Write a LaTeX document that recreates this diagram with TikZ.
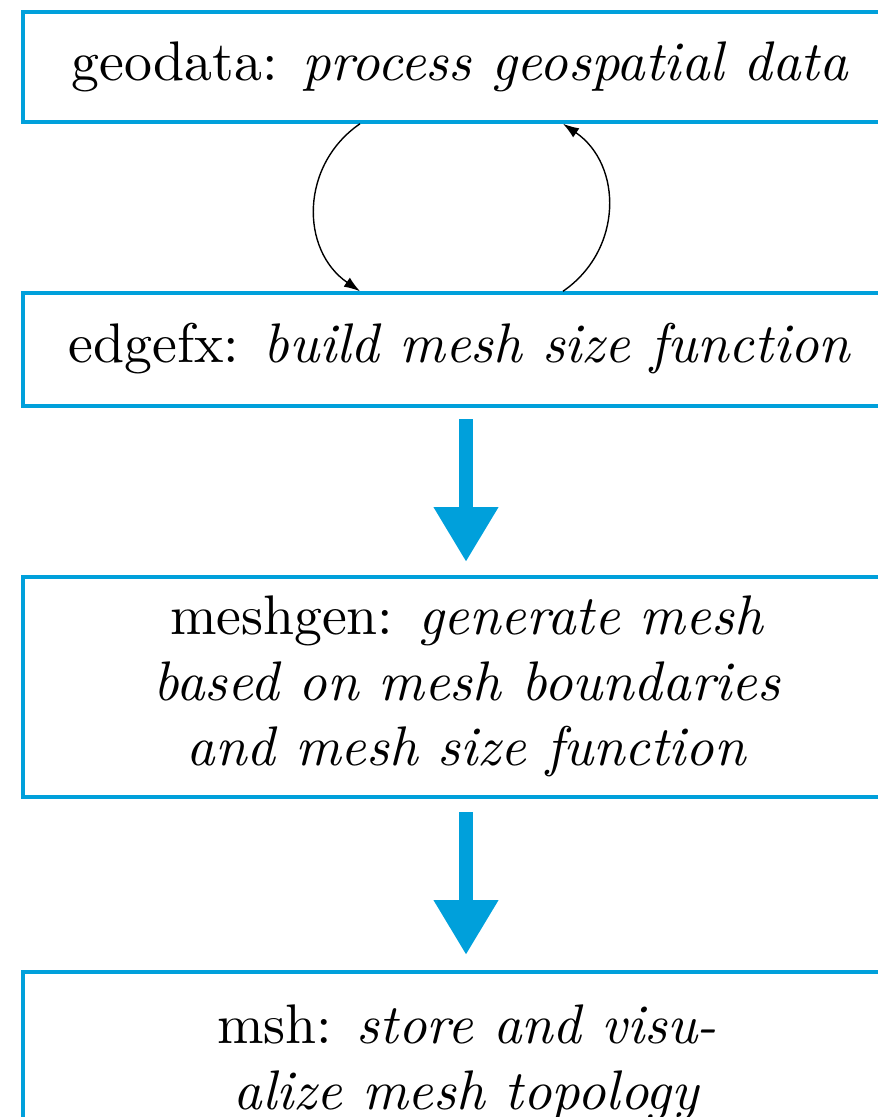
\documentclass[tikz,border=0pt]{standalone}
\usepackage{graphicx}
\usetikzlibrary{arrows.meta}
\definecolor{boxblue}{RGB}{0,160,219}
\newcommand{\bigtxt}[1]{\scalebox{5.58}{\fontsize{10}{11.75}\selectfont\begin{tabular}{@{}c@{}}#1\end{tabular}}}
\begin{document}
\begin{tikzpicture}[x=1pt,y=-1pt,
  box/.style={draw=boxblue, line width=3.5pt, align=center, inner sep=0pt},
  fatarrow/.style={draw=boxblue, line width=14pt, -{Triangle[width=61pt,length=55pt]}},
  loopar/.style={draw=black, line width=1.4pt, -{Latex[length=16pt,width=11pt]}}]
\useasboundingbox (0,0) rectangle (878,1117);
\node[box, minimum width=874, minimum height=110] (geo) at (460,67) {\bigtxt{geodata: \textit{process geospatial data}}};
\node[box, minimum width=874, minimum height=113] (edge) at (460,349.5) {\bigtxt{edgefx: \textit{build mesh size function}}};
\node[box, minimum width=888, minimum height=220] (gen) at (467,687) {\bigtxt{meshgen: \textit{generate mesh}\\\textit{based on mesh boundaries}\\\textit{and mesh size function}}};
\node[box, minimum width=888, minimum height=183, anchor=north] (msh) at (467,970) {\bigtxt{msh: \textit{store and visu-}\\\textit{alize mesh topology}}};
\coordinate (xl) at (360,0);
\coordinate (xr) at (563,0);
\draw[loopar] (geo.south -| xl) .. controls (300,165) and (300,250) .. (edge.north -| xl);
\draw[loopar] (edge.north -| xr) .. controls (623,250) and (623,165) .. (geo.south -| xr);
\coordinate (a1s) at (466,419);
\coordinate (a1e) at (466,562);
\coordinate (a2s) at (466,812);
\coordinate (a2e) at (466,955);
\draw[fatarrow] (a1s) -- (a1e);
\draw[fatarrow] (a2s) -- (a2e);
\end{tikzpicture}
\end{document}
